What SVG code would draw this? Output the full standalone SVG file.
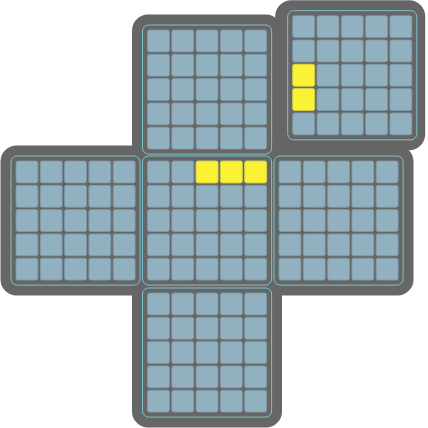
<svg xmlns="http://www.w3.org/2000/svg" xmlns:xlink="http://www.w3.org/1999/xlink" width="428" height="428" viewBox="0 0 428 428">
<style>
.bg{fill:#666666}
.frame{fill:none;stroke:#7cc3cb;stroke-width:1}
.cell{fill:#91b1c1;stroke:#7f9aa8;stroke-width:0.8}
.hi{fill:#fbf236;stroke:#d6cf3a;stroke-width:0.8}
</style>
<defs>
<rect id="bgface" class="bg" x="-15.5" y="-15.5" width="150" height="150" rx="16"/>
<g id="grid">
<rect class="frame" x="-5" y="-5" width="129.1" height="129.1" rx="6"/>
<g id="row">
<rect class="cell" x="0" y="0" width="21.9" height="21.9" rx="2"/>
<rect class="cell" x="24.3" y="0" width="21.9" height="21.9" rx="2"/>
<rect class="cell" x="48.6" y="0" width="21.9" height="21.9" rx="2"/>
<rect class="cell" x="72.9" y="0" width="21.9" height="21.9" rx="2"/>
<rect class="cell" x="97.2" y="0" width="21.9" height="21.9" rx="2"/>
</g>
<use xlink:href="#row" href="#row" y="24.3"/>
<use xlink:href="#row" href="#row" y="48.6"/>
<use xlink:href="#row" href="#row" y="72.9"/>
<use xlink:href="#row" href="#row" y="97.2"/>
</g>
</defs>
<g id="background">
<use xlink:href="#bgface" href="#bgface" x="147.5" y="30"/>
<use xlink:href="#bgface" href="#bgface" x="290.7" y="15.7"/>
<use xlink:href="#bgface" href="#bgface" x="16" y="161"/>
<use xlink:href="#bgface" href="#bgface" x="147.5" y="161"/>
<use xlink:href="#bgface" href="#bgface" x="279" y="161"/>
<use xlink:href="#bgface" href="#bgface" x="147.5" y="293"/>
</g>
<g id="connectors"></g>
<g id="face-top" transform="translate(147.5,30)">
<use xlink:href="#grid" href="#grid"/>
</g>
<g id="face-topright" transform="translate(292.7,15.7)">
<use xlink:href="#grid" href="#grid"/>
<rect class="hi" x="0" y="48.6" width="21.9" height="21.9" rx="2"/>
<rect class="hi" x="0" y="72.9" width="21.9" height="21.9" rx="2"/>
</g>
<g id="face-left" transform="translate(16,161)">
<use xlink:href="#grid" href="#grid"/>
</g>
<g id="face-center" transform="translate(147.5,161)">
<use xlink:href="#grid" href="#grid"/>
<rect class="hi" x="48.6" y="0" width="21.9" height="21.9" rx="2"/>
<rect class="hi" x="72.9" y="0" width="21.9" height="21.9" rx="2"/>
<rect class="hi" x="97.2" y="0" width="21.9" height="21.9" rx="2"/>
</g>
<g id="face-right" transform="translate(279,161)">
<use xlink:href="#grid" href="#grid"/>
</g>
<g id="face-bottom" transform="translate(147.5,293)">
<use xlink:href="#grid" href="#grid"/>
</g>
</svg>
